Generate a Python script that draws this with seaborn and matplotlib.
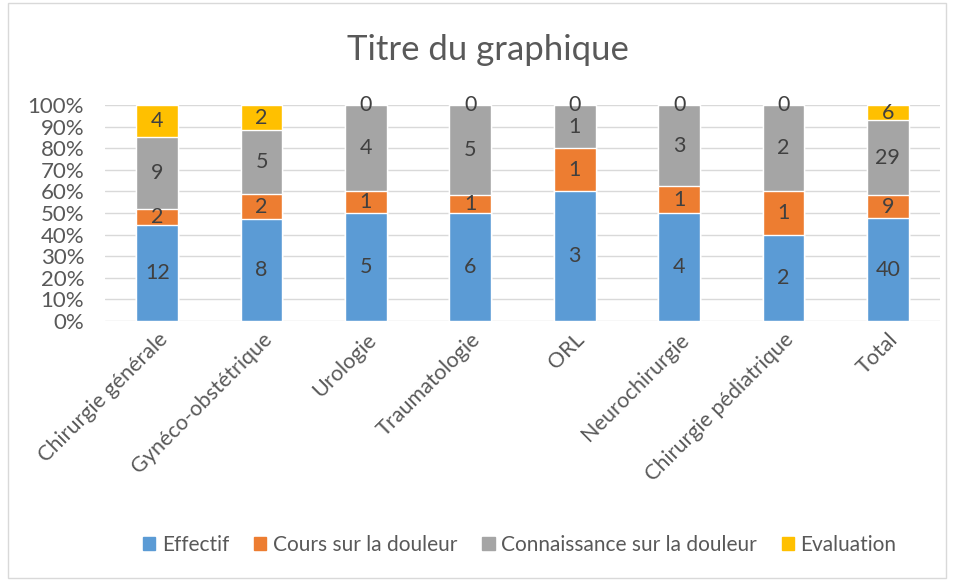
import numpy as np
import pandas as pd
import matplotlib.pyplot as plt
import seaborn as sns
from matplotlib.patches import Rectangle
from matplotlib.ticker import PercentFormatter

# Data
services = ["Chirurgie générale", "Gynéco-obstétrique", "Urologie", "Traumatologie",
            "ORL", "Neurochirurgie", "Chirurgie pédiatrique", "Total"]
effectif = [12, 8, 5, 6, 3, 4, 2, 40]
cours = [2, 2, 1, 1, 1, 1, 1, 9]
connaissance = [9, 5, 4, 5, 1, 3, 2, 29]
evaluation = [4, 2, 0, 0, 0, 0, 0, 6]

series_names = ["Effectif", "Cours sur la douleur", "Connaissance sur la douleur", "Evaluation"]
series_values = [effectif, cours, connaissance, evaluation]
colors = ["#5B9BD5", "#ED7D31", "#A5A5A5", "#FFC000"]

sns.set_style("white")
plt.rcParams["font.family"] = ["Lato", "DejaVu Sans"]

vals = np.array(series_values, dtype=float)
totals = vals.sum(axis=0)
pct = vals / totals * 100
cum = np.cumsum(pct, axis=0)

fig = plt.figure(figsize=(9.57, 5.81), dpi=100)
ax = fig.add_axes([105 / 957, 1 - 321 / 581, 835 / 957, 216 / 581])

# stacked 100% bars: draw cumulative tops from the last series down
for i in range(len(series_names) - 1, -1, -1):
    df = pd.DataFrame({"service": services, "pct": cum[i]})
    sns.barplot(data=df, x="service", y="pct", color=colors[i], width=0.4,
                saturation=1, ax=ax, zorder=3)

# data labels at the middle of each segment
for i in range(len(series_names)):
    for j in range(len(services)):
        mid = cum[i][j] - pct[i][j] / 2
        ax.text(j, mid, f"{int(vals[i][j])}", ha="center", va="center",
                fontsize=15.5, color="#404040", zorder=5)

ax.set_ylim(0, 100)
ax.set_xlim(-0.5, len(services) - 0.5)
ax.set_yticks(np.arange(0, 101, 10))
ax.yaxis.set_major_formatter(PercentFormatter(decimals=0))
ax.grid(axis="y", color="#D9D9D9", linewidth=1, zorder=0)
ax.set_axisbelow(True)
for s in ax.spines.values():
    s.set_visible(False)
ax.set_xlabel("")
ax.set_ylabel("")
ax.tick_params(axis="y", labelsize=16, colors="#595959", length=0, pad=15)
ax.tick_params(axis="x", labelsize=15.5, colors="#595959", length=0, pad=6)
plt.setp(ax.get_xticklabels(), rotation=45, ha="right", rotation_mode="anchor")

fig.text(0.51, 1 - 50 / 581, "Titre du graphique", ha="center", va="center",
         fontsize=25, color="#595959")

handles = [Rectangle((0, 0), 1, 1, color=c) for c in colors]
fig.legend(handles, series_names, loc="center", bbox_to_anchor=(0.543, 1 - 545 / 581),
           ncol=4, frameon=False, fontsize=15, handlelength=0.6, handleheight=0.6,
           handletextpad=0.3, columnspacing=1.2, labelcolor="#595959")

# chart border like the reference
fig.patches.append(Rectangle((8 / 957, 3 / 581), 938 / 957, 575 / 581, transform=fig.transFigure,
                             fill=False, edgecolor="#D9D9D9", linewidth=1))

fig.savefig("out.png", dpi=100)
